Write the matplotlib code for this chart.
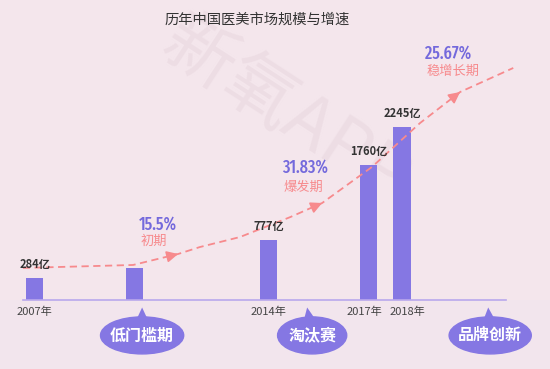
import os
import numpy as np
import matplotlib
matplotlib.use("Agg")
from matplotlib import pyplot as plt
from matplotlib import font_manager
from matplotlib import transforms
from matplotlib.font_manager import FontProperties
from matplotlib.patches import Ellipse

# market size (亿元) per year
years = [2007, 2010, 2014, 2017, 2018]
sizes = [284, 420, 777, 1760, 2245]
size_labels = ["284亿", "", "777亿", "1760亿", "2245亿"]
tick_labels = ["2007年", "", "2014年", "2017年", "2018年"]

# growth stages
stage_rates = ["15.5%", "31.83%", "25.67%"]
stage_names = ["初期", "爆发期", "稳增长期"]
stage_x = [2010.13, 2014.41, 2018.69]
stage_rate_y = [980, 1720, 3200]
stage_name_y = [760, 1460, 2968]

# dashed trend curve
trend_x = [2006.65, 2009.95, 2011.30, 2011.95, 2013.15, 2014.66, 2015.61, 2017.10, 2018.54, 2019.74, 2021.33]
trend_y = [416, 455, 598, 688, 818, 1078, 1260, 1728, 2299, 2702, 3014]
arrow_at = [2, 6, 9]

# bottom bubbles
bubble_text = ["低门槛期", "淘汰赛", "品牌创新"]
bubble_x = [2010.22, 2015.31, 2020.64]
bubble_tip_x = [2010.22, 2015.16, 2020.58]
bubble_w = [2.49, 2.07, 2.46]

BG = "#f4e6ec"
BAR = "#8577e3"
PURPLE = "#7469dc"
PINK = "#f78a8d"

plt.rcParams['font.family'] = ['Noto Sans CJK SC', 'DejaVu Sans']


def pick_condensed():
    best, best_score = None, -99
    for f in font_manager.fontManager.ttflist:
        key = (f.name + " " + os.path.basename(f.fname)).lower()
        if not ("condensed" in key or "narrow" in key or "cond" in key):
            continue
        if f.style != "normal":
            continue
        score = 10
        if "extracondensed" in key or "extcond" in key or "extra condensed" in key:
            score += 3
        if "semicondensed" in key or "semi condensed" in key:
            score -= 3
        w = f.weight
        if not isinstance(w, int):
            w = font_manager.weight_dict.get(w, 400)
        if "bold" in key or "black" in key or "heavy" in key:
            w = max(w, 700)
        if "light" in key or "thin" in key:
            w = min(w, 300)
        score -= abs(w - 450) / 80
        if score > best_score:
            best, best_score = f, score
    if best is None:
        return FontProperties(family="DejaVu Sans")
    return FontProperties(fname=best.fname)


pct_font = pick_condensed()

fig = plt.figure(figsize=(5.5, 3.69), dpi=100, facecolor="#f2e5ed")
ax = fig.add_axes([0, 69 / 369, 1, 300 / 369], facecolor=BG)
ax.set_xlim(2005.966, 2022.43)
ax.set_ylim(0, 3897)

# faint watermark behind the marks
ax.text(285 / 550, 1 - 112 / 369, "新氧APP", transform=fig.transFigure,
        fontsize=52, rotation=-33, rotation_mode="anchor", ha="center",
        va="center", color="#eddde4", zorder=0.5, clip_on=False)

ax.bar(years, sizes, width=0.51, color=BAR, zorder=2)
for x, v, lab in zip(years, sizes, size_labels):
    ax.annotate(lab, (x, v), xytext=(0, 5), textcoords="offset points",
                ha="center", va="bottom", fontsize=8, color="#333333",
                fontweight="bold", zorder=5)

for s in ["top", "left", "right"]:
    ax.spines[s].set_visible(False)
ax.spines["bottom"].set_color("#b9a8ec")
ax.spines["bottom"].set_linewidth(1.2)
ax.spines["bottom"].set_bounds(2006.65, 2021.1)
ax.set_yticks([])
ax.set_xticks(years, tick_labels)
ax.tick_params(axis="x", length=0, pad=5, labelsize=8, labelcolor="#444444")
# nudge the two close labels apart a little, as in the original
nudges = {"2017年": -4, "2018年": 5}
for lab in ax.get_xticklabels():
    dx = nudges.get(lab.get_text(), 0)
    if dx:
        lab.set_transform(lab.get_transform() +
                          transforms.ScaledTranslation(dx / 100, 0, fig.dpi_scale_trans))

# trend curve with arrow heads
ax.plot(trend_x, trend_y, color=PINK, lw=1.3, dashes=(4, 2.5), zorder=3)
for i in arrow_at:
    tip = np.array([trend_x[i], trend_y[i]])
    prev = np.array([trend_x[i - 1], trend_y[i - 1]])
    ax.annotate("", xy=tip, xytext=tip + 0.15 * (prev - tip),
                arrowprops=dict(arrowstyle="-|>", color=PINK, lw=1.2,
                                mutation_scale=17, shrinkA=0, shrinkB=0),
                zorder=4)

renderer = fig.canvas.get_renderer()
rate_texts = []
for x, r, yr, n, yn in zip(stage_x, stage_rates, stage_rate_y, stage_names, stage_name_y):
    t = ax.text(x, yr, r, fontproperties=pct_font, fontsize=14,
                color=PURPLE, ha="left", va="center", zorder=5)
    rate_texts.append(t)
    ax.text(x + 0.05, yn, n, fontsize=9.5, color=PINK, ha="left", va="center",
            fontweight="medium", zorder=5)
# fit the rate font so that "31.83%" is about 46 px wide
w = rate_texts[1].get_window_extent(renderer).width
for t in rate_texts:
    t.set_fontsize(14 * 46 / w)

# bubbles below the axis
for x, tx, bw, t in zip(bubble_x, bubble_tip_x, bubble_w, bubble_text):
    ax.add_patch(Ellipse((x, -460), bw, 481, color=BAR, clip_on=False, zorder=2))
    ax.annotate(t, xy=(tx, -97), xytext=(x, -460), ha="center", va="center",
                fontsize=11.5, fontweight="bold", color="white", zorder=5,
                annotation_clip=False,
                arrowprops=dict(arrowstyle="wedge,tail_width=1.0", fc=BAR,
                                ec="none", shrinkA=0, shrinkB=0))

fig.text(257 / 550, 1 - 20 / 369, "历年中国医美市场规模与增速", ha="center",
         va="center", fontsize=10.3, color="#333333")

fig.savefig("out.png", dpi=100, facecolor=fig.get_facecolor())
